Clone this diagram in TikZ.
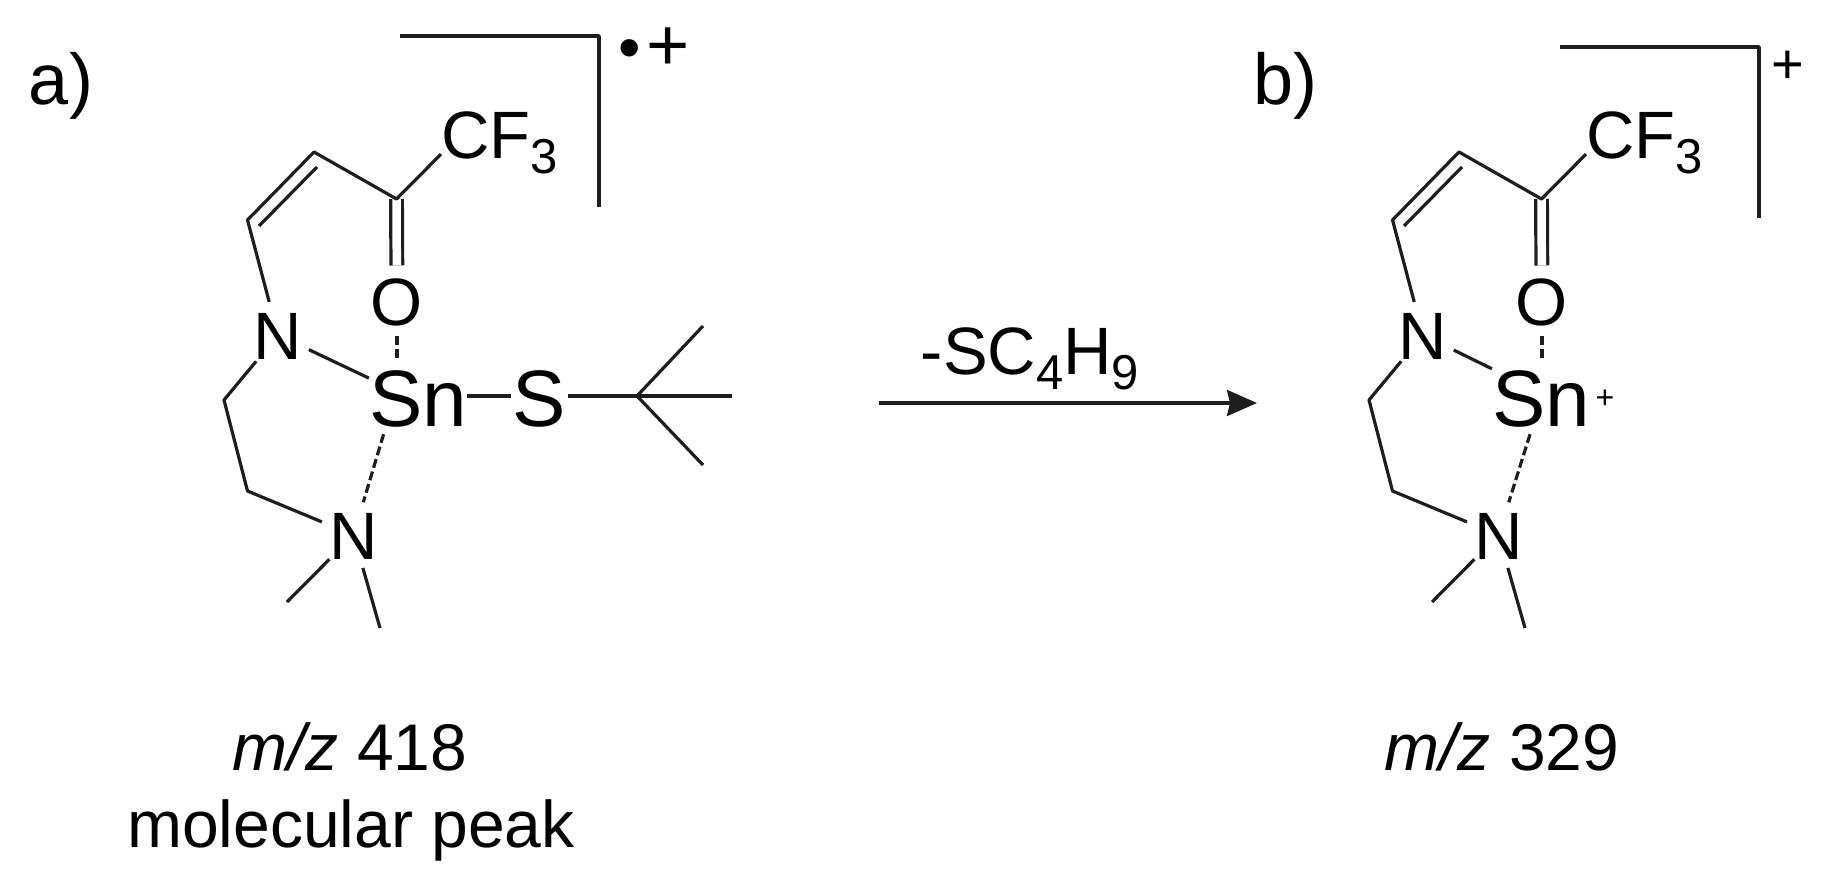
\documentclass[tikz,border=0pt]{standalone}
\usepackage{fontspec}
\setmainfont{Liberation Sans}
\usetikzlibrary{arrows.meta}
\definecolor{bondgray}{RGB}{30,30,30}
\newcommand{\lowered}[1]{\raisebox{-15pt}{\fontsize{49}{49}\selectfont #1}}

\begin{document}
\begin{tikzpicture}[x=1pt, y=-1pt, line join=round,
    atom/.style = {circle, inner sep=0pt, text height=48pt, text depth=0pt,
      font=\fontsize{67}{80}\selectfont},
    metal/.style = {inner sep=0pt, minimum width=#1, text height=68pt, text depth=8pt,
      font=\fontsize{80}{90}\selectfont},
    caption/.style = {anchor=base, inner sep=0pt, font=\fontsize{66}{80}\selectfont},
    bond/.style = {draw=bondgray, line width=3.2pt},
    coord/.style = {bond, dash pattern=on 9pt off 4pt},
    bracket/.style = {draw=bondgray, line width=3.6pt}]
  \useasboundingbox (0,0) rectangle (1822,888);

  % both ligands share one skeleton
  \foreach \mol/\dx/\sn/\anga/\angb in {a/0/0/160/228, b/1145/-22/151/254} {
    \begin{scope}[xshift=\dx pt]
      \node [atom] (nim\mol) at (278,335) {N};
      \node [atom] (nme\mol) at (353.5,535) {N};
      \node [atom] (oxo\mol) at (397,301) {O};
      \node [atom, anchor=west, rectangle] (cf\mol) at (441,134) {CF\lowered{3}};
      \node [metal=96pt] (tin\mol) at (418+\sn,396) {Sn};
      \coordinate (ch\mol) at (247.5,220);
      \coordinate (cv\mol) at (314,152);
      \coordinate (co\mol) at (396.5,199);
      \coordinate (ina\mol) at (259,226);
      \coordinate (inb\mol) at (317,167);
      \coordinate (eta\mol) at (224,400);
      \coordinate (etb\mol) at (247.5,491);
      \coordinate (mea\mol) at (287,602);
      \coordinate (meb\mol) at (380,628);
      \draw [bond, double=white, double distance=8.5pt] (co\mol) -- (oxo\mol);
      \draw [bond] (nim\mol) -- (ch\mol) -- (cv\mol) -- (co\mol) -- (cf\mol.199);
      \draw [bond] (ina\mol) -- (inb\mol);
      \draw [bond] (nim\mol) -- (eta\mol) -- (etb\mol) -- (nme\mol);
      \draw [bond] (nme\mol) -- (mea\mol);
      \draw [bond] (nme\mol) -- (meb\mol);
      \draw [bond] (nim\mol) -- (tin\mol.\anga);
      \draw [coord] (oxo\mol) -- (oxo\mol |- tin\mol.north);
      \draw [coord] (tin\mol.\angb) -- (nme\mol);
    \end{scope}
  }

  % thiolate on the left molecule
  \node [metal=57pt] (sul) at (539.5,396) {S};
  \coordinate (tbu) at (637,396);
  \coordinate (tbua) at (703,326);
  \coordinate (tbub) at (732,396);
  \coordinate (tbuc) at (703,465);
  \draw [bond] (tina) -- (sul);
  \draw [bond] (sul) -- (tbu);
  \draw [bond] (tbu) -- (tbua);
  \draw [bond] (tbu) -- (tbub);
  \draw [bond] (tbu) -- (tbuc);

  % charge brackets
  \draw [bracket] (400,36) -- (599,36) -- (599,207);
  \draw [bracket] (1560,47) -- (1759,47) -- (1759,218);
  \node [anchor=base, inner sep=0pt, font=\fontsize{64}{70}\selectfont] (radical) at (630,70) {\textbullet};
  \node [anchor=base, inner sep=0pt, font=\fontsize{74}{80}\selectfont] (plusa) at (668,71) {+};
  \node [anchor=base, inner sep=0pt, font=\fontsize{56}{60}\selectfont] (plusb) at (1788,84) {+};
  \node [anchor=base, inner sep=0pt, font=\fontsize{32}{36}\selectfont] (plustin) at (1605,408) {+};

  % reaction arrow
  \coordinate (arrowfrom) at (879,403);
  \coordinate (arrowto) at (1257,403);
  \draw [bond, -{Stealth[length=30pt, width=26pt, inset=3pt]}] (arrowfrom) -- (arrowto);
  \node [caption, font=\fontsize{67}{80}\selectfont] (loss) at (1030,374) {-SC\lowered{4}H\lowered{9}};

  % labels
  \node [caption, font=\fontsize{72}{80}\selectfont] (parta) at (61,105) {a)};
  \node [caption, font=\fontsize{72}{80}\selectfont] (partb) at (1285,105) {b)};
  \node [caption] (mza) at (350,770) {\textit{m/z} 418};
  \node [caption] (peak) at (351,847) {molecular peak};
  \node [caption] (mzb) at (1502,770) {\textit{m/z} 329};
\end{tikzpicture}
\end{document}
